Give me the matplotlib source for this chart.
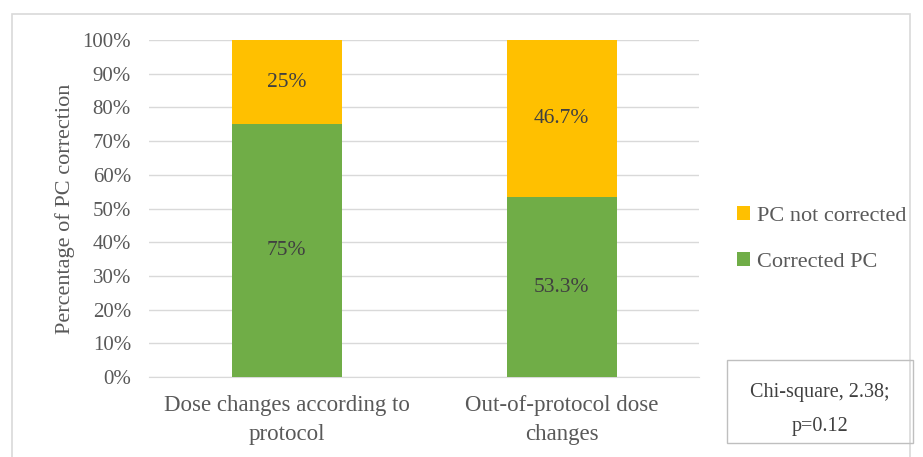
import matplotlib.pyplot as plt
from matplotlib.patches import Rectangle

categories = ["Dose changes according to\nprotocol", "Out-of-protocol dose\nchanges"]
corrected = [75, 53.3]
not_corrected = [25, 46.7]
corrected_labels = ["75%", "53.3%"]
not_corrected_labels = ["25%", "46.7%"]
y_ticks = [0, 10, 20, 30, 40, 50, 60, 70, 80, 90, 100]

plt.rcParams['font.family'] = ['Liberation Serif', 'DejaVu Serif']

fig = plt.figure(figsize=(9.23, 4.57), dpi=100)
ax = fig.add_axes([149 / 923, 1 - 377 / 457, 550 / 923, 337 / 457])

# outer chart border
fig.patches.append(Rectangle((12 / 923, -0.01), 898 / 923, 1 - 14 / 457 + 0.01,
                             transform=fig.transFigure, fill=False,
                             edgecolor='#D9D9D9', linewidth=1.2))

x = range(len(categories))
green = '#70AD47'
orange = '#FFC000'
b1 = ax.bar(x, corrected, width=0.4, color=green, label='Corrected PC', zorder=3)
b2 = ax.bar(x, not_corrected, width=0.4, bottom=corrected, color=orange,
            label='PC not corrected', zorder=3)

for i in x:
    ax.text(i, corrected[i] / 2, corrected_labels[i], ha='center', va='center',
            fontsize=15.5, color='#404040', zorder=4)
    ax.text(i, corrected[i] + not_corrected[i] / 2, not_corrected_labels[i],
            ha='center', va='center', fontsize=15.5, color='#404040', zorder=4)

ax.set_xlim(-0.5, 1.5)
ax.set_ylim(0, 100)
ax.set_yticks(y_ticks)
ax.set_yticklabels([f"{t}%" for t in y_ticks], fontsize=15)
ax.set_xticks(list(x))
ax.set_xticklabels(categories, fontsize=16.5, linespacing=1.5)
ax.tick_params(axis='both', length=0, colors='#595959')
ax.tick_params(axis='y', pad=13)
ax.tick_params(axis='x', pad=13)
ax.grid(axis='y', color='#D9D9D9', linewidth=1, zorder=0)
for s in ['top', 'right', 'left']:
    ax.spines[s].set_visible(False)
ax.spines['bottom'].set_color('#D9D9D9')
ax.set_ylabel("Percentage of PC correction", fontsize=16, color='#595959', labelpad=5)

handles = [b2, b1]
fig.legend(handles, ['PC not corrected', 'Corrected PC'], loc='center left',
           bbox_to_anchor=(737 / 923, 1 - 239 / 457), frameon=False, fontsize=16,
           labelcolor='#595959', handlelength=0.6, handleheight=0.6,
           handletextpad=0.3, labelspacing=1.15, borderpad=0, borderaxespad=0)

fig.patches.append(Rectangle((727 / 923, 1 - 443 / 457), 186 / 923, 83 / 457,
                             transform=fig.transFigure, fill=False,
                             edgecolor='#BFBFBF', linewidth=1))
fig.text(820 / 923, 1 - 392 / 457, "Chi-square, 2.38;", ha='center', va='center',
         fontsize=14.5, color='#404040')
fig.text(820 / 923, 1 - 426 / 457, "p=0.12", ha='center', va='center',
         fontsize=14.5, color='#404040')

fig.savefig("out.png", dpi=100)
